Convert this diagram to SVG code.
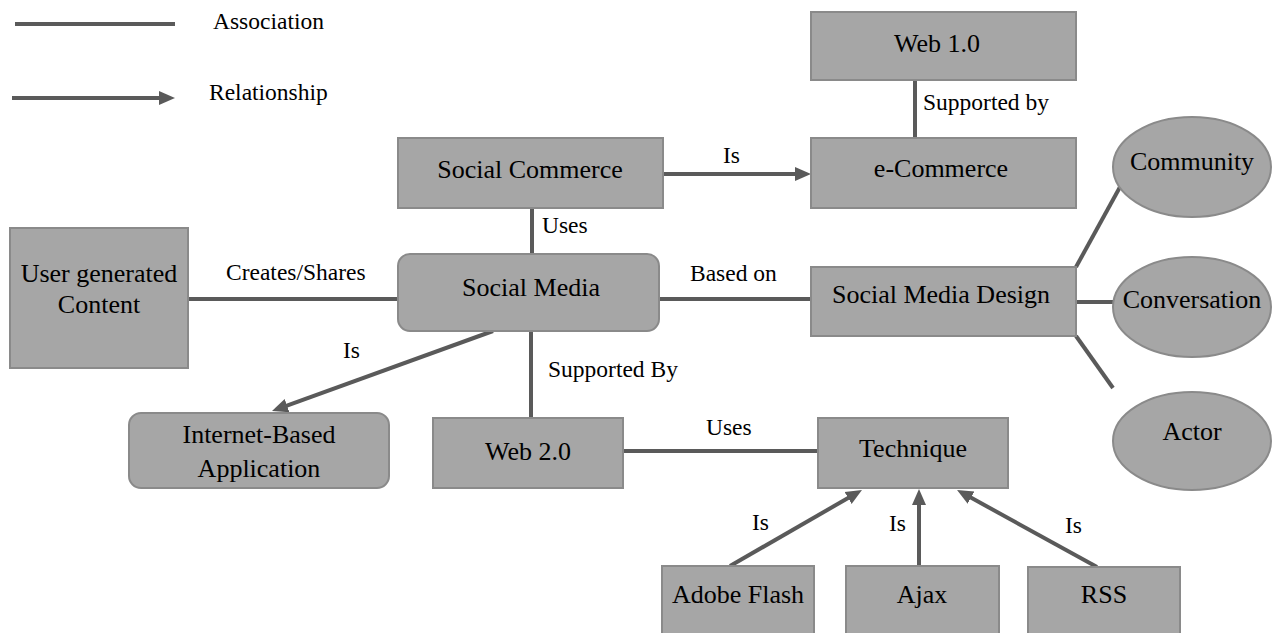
<svg xmlns="http://www.w3.org/2000/svg" width="1273" height="633" viewBox="0 0 1273 633" font-family="'Liberation Serif', 'DejaVu Serif', serif">
<style>
.n{fill:#a6a6a6;stroke:#8a8a8a;stroke-width:2}
.c{stroke:#5a5a5a;stroke-width:4;fill:none}
.a{marker-end:url(#ah)}
text{font-family:'Liberation Serif','DejaVu Serif',serif;fill:#000}
.t{font-size:26px;text-anchor:middle}
.l{font-size:23.5px}
</style>
<defs>
<marker id="ah" markerUnits="userSpaceOnUse" markerWidth="16" markerHeight="16" viewBox="0 0 16 16" refX="6" refY="8" orient="auto">
<path d="M0,1 L16,8 L0,15 z" fill="#5a5a5a"/>
</marker>
</defs>
<g id="legend">
<line class="c" x1="15" y1="24" x2="175" y2="24"/>
<text class="l" x="213" y="29">Association</text>
<line class="c a" x1="12" y1="98" x2="165" y2="98"/>
<text class="l" x="209" y="100">Relationship</text>
</g>
<g id="connectors">
<line class="c" x1="532" y1="208" x2="532" y2="254"/>
<line class="c a" x1="663" y1="174" x2="801" y2="174"/>
<line class="c" x1="915" y1="80" x2="915" y2="138"/>
<line class="c" x1="188" y1="299" x2="398" y2="299"/>
<line class="c" x1="659" y1="299" x2="811" y2="299"/>
<line class="c a" x1="493" y1="331" x2="281.4" y2="407.6"/>
<line class="c" x1="531" y1="331" x2="531" y2="418"/>
<line class="c" x1="623" y1="451" x2="818" y2="451"/>
<line class="c" x1="1076" y1="267" x2="1120" y2="187"/>
<line class="c" x1="1076" y1="302" x2="1113" y2="302"/>
<line class="c" x1="1076" y1="336" x2="1113" y2="388"/>
<line class="c a" x1="730" y1="566" x2="853.3" y2="495"/>
<line class="c a" x1="919" y1="566" x2="919" y2="499"/>
<line class="c a" x1="1097" y1="567" x2="965.8" y2="494.8"/>
<text class="l" x="542" y="233">Uses</text>
<text class="l" x="723" y="163">Is</text>
<text class="l" x="923" y="110">Supported by</text>
<text class="l" x="226" y="280">Creates/Shares</text>
<text class="l" x="690" y="281">Based on</text>
<text class="l" x="343" y="358">Is</text>
<text class="l" x="548" y="377">Supported By</text>
<text class="l" x="706" y="435">Uses</text>
<text class="l" x="752" y="530">Is</text>
<text class="l" x="889" y="531">Is</text>
<text class="l" x="1065" y="533">Is</text>
</g>
<g id="web10"><rect class="n" x="811" y="12" width="265" height="68"/><text class="t" x="937" y="52">Web 1.0</text></g>
<g id="socialcommerce"><rect class="n" x="398" y="138" width="265" height="70"/><text class="t" x="530" y="178">Social Commerce</text></g>
<g id="ecommerce"><rect class="n" x="811" y="138" width="265" height="70"/><text class="t" x="941" y="177">e-Commerce</text></g>
<g id="ugc"><rect class="n" x="10" y="228" width="178" height="140"/><text class="t" x="99" y="282">User generated</text><text class="t" x="99" y="313">Content</text></g>
<g id="socialmedia"><rect class="n" x="398" y="254" width="261" height="77" rx="12"/><text class="t" x="531" y="296">Social Media</text></g>
<g id="smd"><rect class="n" x="811" y="267" width="265" height="69"/><text class="t" x="941" y="303">Social Media Design</text></g>
<g id="community"><ellipse class="n" cx="1192" cy="167" rx="79" ry="50"/><text class="t" x="1192" y="170">Community</text></g>
<g id="conversation"><ellipse class="n" cx="1192" cy="307" rx="79" ry="50"/><text class="t" x="1192" y="308">Conversation</text></g>
<g id="actor"><ellipse class="n" cx="1192" cy="441" rx="79" ry="49"/><text class="t" x="1192" y="440">Actor</text></g>
<g id="iba"><rect class="n" x="129" y="413" width="260" height="75" rx="12"/><text class="t" x="259" y="443">Internet-Based</text><text class="t" x="259" y="477">Application</text></g>
<g id="web20"><rect class="n" x="433" y="418" width="190" height="70"/><text class="t" x="528" y="460">Web 2.0</text></g>
<g id="technique"><rect class="n" x="818" y="418" width="190" height="70"/><text class="t" x="913" y="457">Technique</text></g>
<g id="adobeflash"><rect class="n" x="662" y="566" width="152" height="80"/><text class="t" x="738" y="603">Adobe Flash</text></g>
<g id="ajax"><rect class="n" x="846" y="566" width="153" height="80"/><text class="t" x="922" y="603">Ajax</text></g>
<g id="rss"><rect class="n" x="1028" y="567" width="152" height="80"/><text class="t" x="1104" y="603">RSS</text></g>
</svg>
